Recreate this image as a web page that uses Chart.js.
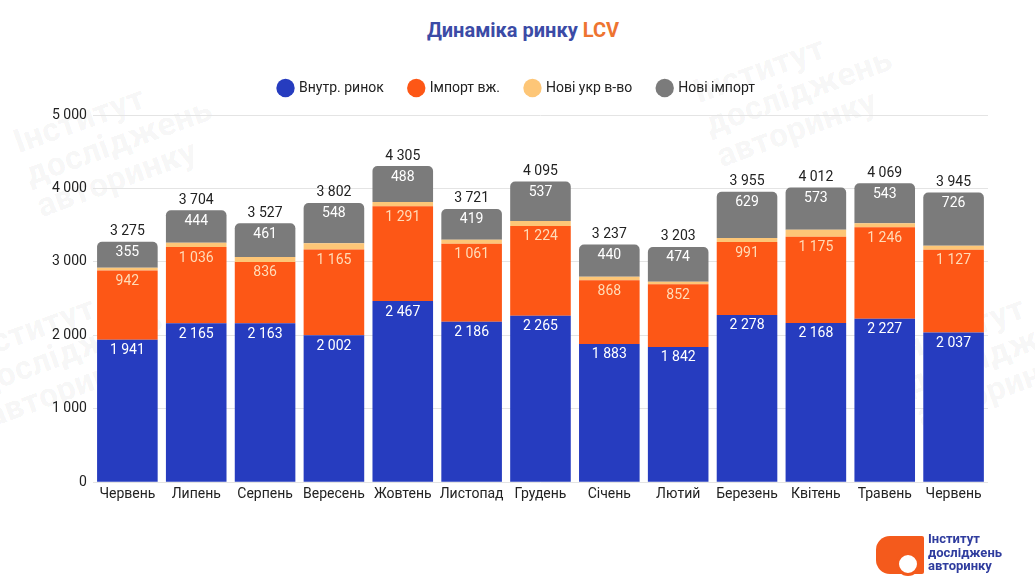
<!DOCTYPE html>
<html>
<head>
<meta charset="utf-8">
<script src="https://cdn.jsdelivr.net/npm/chart.js@4.4.1/dist/chart.umd.min.js"></script>
<style>
  html, body { margin: 0; padding: 0; background: #fff; }
  #wrap { position: relative; width: 1035px; height: 582px; overflow: hidden; font-family: Roboto, "Noto Sans", sans-serif; }
  #title { position: absolute; top: 18px; left: 0; width: 1046px; text-align: center; font-size: 20px; font-weight: 700; color: #3b4ba6; }
  #title span { color: #ee7430; }
  .wm { position: absolute; color: rgba(0,0,0,0.03); font-weight: 900; font-size: 34px; line-height: 34px; transform: rotate(-20deg); white-space: nowrap; }
  #logo { position: absolute; left: 876px; top: 532px; }
  #logo .shape { position: absolute; left: 0; top: 4px; width: 48px; height: 38px; background: #f45a1c; border-radius: 14px 2px 2px 14px; }
  #logo .pie { position: absolute; left: 20px; top: 20px; width: 18px; height: 18px; border-radius: 50%; background: #fff; border: 3px solid #f45a1c; }
  #logo .txt { position: absolute; left: 52px; top: 0; font-size: 13px; font-weight: 700; line-height: 13.5px; color: #2f3c9e; white-space: nowrap; }
  canvas { position: absolute; left: 0; top: 0; }
</style>
</head>
<body>
<div id="wrap">
  <div class="wm" style="left:20px;top:90px;">Інститут<br>досліджень<br>авторинку</div>
  <div class="wm" style="left:700px;top:40px;">Інститут<br>досліджень<br>авторинку</div>
  <div class="wm" style="left:-30px;top:300px;">Інститут<br>досліджень<br>авторинку</div>
  <div class="wm" style="left:900px;top:300px;">Інститут<br>досліджень<br>авторинку</div>
  <div id="title">Динаміка ринку <span>LCV</span></div>
  <canvas id="lcvChart" width="1035" height="582"></canvas>
  <div id="logo">
    <div class="shape"></div><div class="pie"></div>
    <div class="txt">Інститут<br>досліджень<br>авторинку</div>
  </div>
</div>
<script>
// Data
const months = ['Червень', 'Липень', 'Серпень', 'Вересень', 'Жовтень', 'Листопад', 'Грудень',
                'Січень', 'Лютий', 'Березень', 'Квітень', 'Травень', 'Червень'];
const domestic  = [1941, 2165, 2163, 2002, 2467, 2186, 2265, 1883, 1842, 2278, 2168, 2227, 2037];
const importUsed = [942, 1036, 836, 1165, 1291, 1061, 1224, 868, 852, 991, 1175, 1246, 1127];
const newUkr    = [37, 59, 67, 87, 59, 55, 69, 46, 35, 57, 96, 53, 55];
const newImport = [355, 444, 461, 548, 488, 419, 537, 440, 474, 629, 573, 543, 726];
const totals    = [3275, 3704, 3527, 3802, 4305, 3721, 4095, 3237, 3203, 3955, 4012, 4069, 3945];

const blue = '#263cbf',
      orange = '#fd5716',
      peach = '#fdc677',
      gray = '#7b7b7b',
      textColor = '#222';

// "3 275" style
function fmt(v) {
  return String(v).replace(/\B(?=(\d{3})+(?!\d))/g, ' ');
}

// Labels inside the segments and totals above each bar
const valueLabels = {
  id: 'valueLabels',
  afterDatasetsDraw(chart) {
    const ctx = chart.ctx;
    ctx.save();
    ctx.font = '14px Roboto, "Noto Sans", sans-serif';
    ctx.textAlign = 'center';
    ctx.textBaseline = 'middle';
    chart.data.datasets.forEach((ds, i) => {
      if (!ds.labelColor) return;
      chart.getDatasetMeta(i).data.forEach((bar, j) => {
        ctx.fillStyle = ds.labelColor;
        ctx.fillText(fmt(ds.data[j]), bar.x, bar.y + 11);
      });
    });
    const top = chart.getDatasetMeta(3).data;
    ctx.fillStyle = textColor;
    top.forEach((bar, j) => {
      ctx.fillText(fmt(totals[j]), bar.x, bar.y - 10);
    });
    ctx.restore();
  }
};

// Extra space between legend and plot area
const legendGap = {
  id: 'legendGap',
  beforeInit(chart) {
    const fit = chart.legend.fit;
    chart.legend.fit = function() {
      fit.bind(chart.legend)();
      this.height += 10;
    };
  }
};

const chart = new Chart(document.getElementById('lcvChart'), {
  type: 'bar',
  data: {
    labels: months,
    datasets: [
      { label: 'Внутр. ринок', data: domestic, backgroundColor: blue, labelColor: '#fff' },
      { label: 'Імпорт вж.', data: importUsed, backgroundColor: orange, labelColor: '#ffdcb8' },
      { label: 'Нові укр в-во', data: newUkr, backgroundColor: peach },
      { label: 'Нові імпорт', data: newImport, backgroundColor: gray, labelColor: '#fff',
        borderRadius: { topLeft: 5, topRight: 5, bottomLeft: 0, bottomRight: 0 }, borderSkipped: false }
    ]
  },
  options: {
    responsive: false,
    animation: false,
    events: [],
    layout: { padding: { top: 55, left: 46, right: 47, bottom: 75 } },
    datasets: { bar: { categoryPercentage: 1, barPercentage: 0.88 } },
    plugins: {
      legend: {
        position: 'top',
        labels: {
          usePointStyle: true,
          pointStyle: 'circle',
          boxWidth: 13,
          boxHeight: 13,
          padding: 26,
          color: textColor,
          font: { family: 'Roboto, "Noto Sans", sans-serif', size: 14 }
        }
      },
      tooltip: { enabled: false },
      title: { display: false }
    },
    scales: {
      x: {
        stacked: true,
        grid: { display: false, drawTicks: false },
        border: { display: false },
        ticks: { color: textColor, padding: 4, maxRotation: 0, minRotation: 0, autoSkip: false,
                 font: { family: 'Roboto, "Noto Sans", sans-serif', size: 14 } }
      },
      y: {
        stacked: true,
        min: 0,
        max: 5000,
        border: { display: false },
        grid: { color: '#e4e4e4', drawTicks: false },
        ticks: {
          stepSize: 1000,
          padding: 6,
          color: textColor,
          font: { family: 'Roboto, "Noto Sans", sans-serif', size: 14 },
          callback: (v) => fmt(v)
        }
      }
    }
  },
  plugins: [valueLabels, legendGap]
});
</script>
</body>
</html>
